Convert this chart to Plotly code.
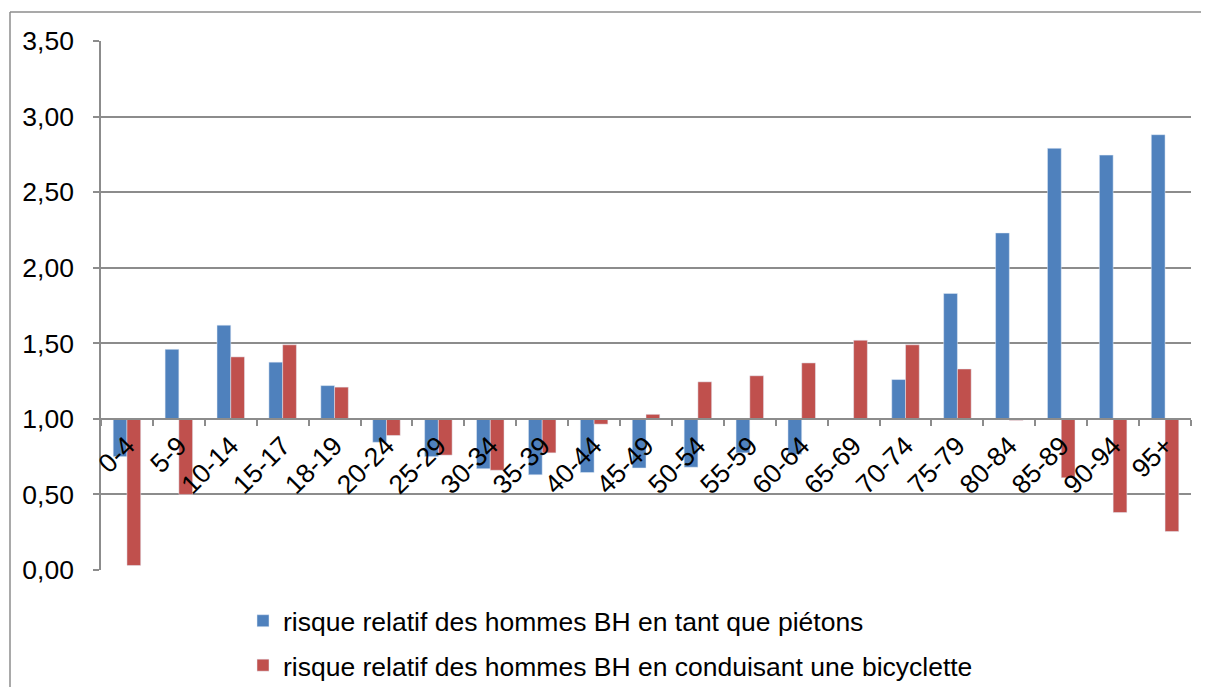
import plotly.graph_objects as go

AGE_GROUPS = ["0-4", "5-9", "10-14", "15-17", "18-19", "20-24", "25-29", "30-34",
              "35-39", "40-44", "45-49", "50-54", "55-59", "60-64", "65-69",
              "70-74", "75-79", "80-84", "85-89", "90-94", "95+"]
PIETONS = [0.75, 1.46, 1.62, 1.375, 1.22, 0.845, 0.75, 0.67, 0.63, 0.645, 0.675,
           0.68, 0.775, 0.765, 1.00, 1.26, 1.83, 2.23, 2.79, 2.745, 2.88]
BICYCLETTE = [0.03, 0.50, 1.41, 1.49, 1.21, 0.89, 0.76, 0.66, 0.775, 0.965, 1.03,
              1.245, 1.285, 1.37, 1.52, 1.49, 1.33, 0.99, 0.61, 0.38, 0.255]
BASE = 1.0  # bars are drawn from the 1,00 reference line
Y_MAX = 3.5

BLUE = "#4F81BD"
RED = "#C0504D"
GRID = "#8C8C8C"
FONT = "Liberation Sans, Arial, sans-serif"

# the page body adds an 8px margin all round; keep the figure inside the window
W, H = 1193, 679
L, R, T, B = 93, 10, 33, 117
PW, PH = W - L - R, H - T - B

fig = go.Figure()
fig.add_bar(name="risque relatif des hommes BH en tant que piétons",
            x=AGE_GROUPS, y=[v - BASE for v in PIETONS], base=BASE,
            marker_color=BLUE, legendgroup="a")
fig.add_bar(name="risque relatif des hommes BH en conduisant une bicyclette",
            x=AGE_GROUPS, y=[v - BASE for v in BICYCLETTE], base=BASE,
            marker_color=RED, legendgroup="b")

# outer chart border: only left and top edges are visible in the source
bx0, by1 = (2 - L) / PW, 1 + (T - 4) / PH
bx1, by0 = (W - L) / PW, (T + PH - H) / PH
for x0, y0, x1, y1 in [(bx0, by0, bx0, by1), (bx0, by1, bx1, by1)]:
    fig.add_shape(type="line", xref="paper", yref="paper", layer="below",
                  x0=x0, y0=y0, x1=x1, y1=y1, line=dict(color=GRID, width=1.5))

fig.update_layout(
    width=W, height=H, barmode="group", bargap=0.47, bargroupgap=0,
    separators=", ", plot_bgcolor="white", paper_bgcolor="white",
    font=dict(family=FONT, size=26.5, color="black"),
    margin=dict(l=L, r=R, t=T, b=B, pad=0, autoexpand=False),
    xaxis=dict(anchor="free", position=BASE / Y_MAX, showline=True, automargin=False,
               linecolor=GRID, linewidth=1.5, ticks="outside", tickson="boundaries",
               ticklen=6, tickcolor=GRID, tickwidth=1.5, tickangle=-45,
               showgrid=False, tickfont=dict(size=26.5)),
    yaxis=dict(range=[0, Y_MAX], dtick=0.5, tickformat=".2f", showline=True,
               automargin=False, linecolor=GRID, linewidth=1.5, ticks="outside",
               ticklen=6, tickcolor=GRID, tickwidth=1.5, gridcolor=GRID,
               gridwidth=1.5, zeroline=False, tickfont=dict(size=26.5),
               ticklabelstandoff=14),
    legend=dict(x=(235 - L) / PW, y=-(589 - T - PH) / PH, xanchor="left",
                yanchor="top", font=dict(size=26.5), tracegroupgap=7,
                traceorder="grouped", bgcolor="rgba(0,0,0,0)"),
    showlegend=True,
)

fig.write_html("out.html")
